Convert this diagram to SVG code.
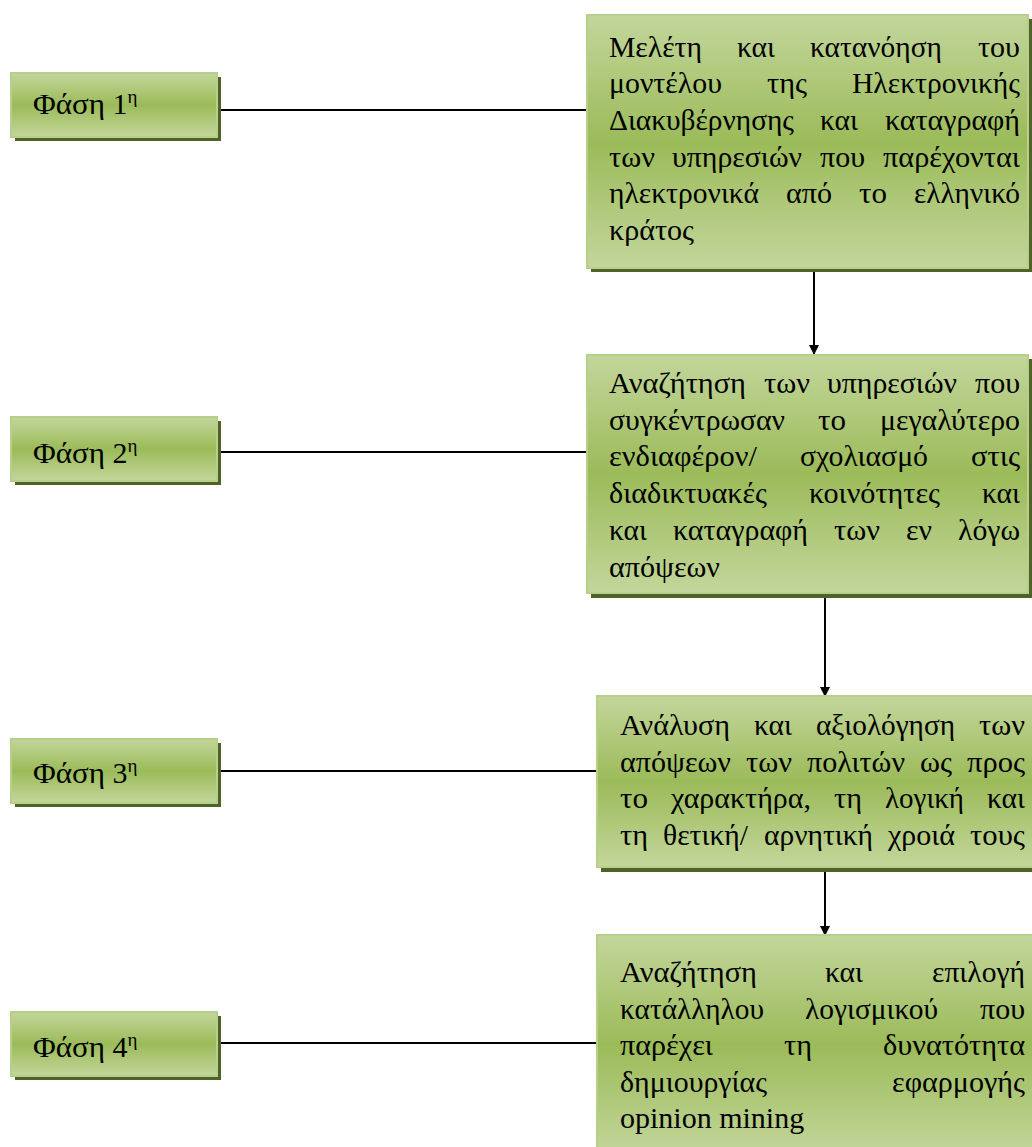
<svg xmlns="http://www.w3.org/2000/svg" width="1032" height="1147" viewBox="0 0 1032 1147">
<defs>
<linearGradient id="g" x1="0" y1="0" x2="0" y2="1">
<stop offset="0" stop-color="#c3d69b"/>
<stop offset="0.5" stop-color="#9bbb59"/>
<stop offset="1" stop-color="#c3d69b"/>
</linearGradient>
<marker id="ah" markerWidth="10" markerHeight="10" refX="9" refY="5" orient="auto" markerUnits="userSpaceOnUse">
<path d="M0,0 L10,5 L0,10 z" fill="#000"/>
</marker>
<style>
.box{fill:url(#g);stroke:#b6cf8a;stroke-width:2}
.sh{fill:#4f6228}
.t{font-family:"Liberation Serif","DejaVu Serif","Times New Roman",serif;font-size:30px;fill:#000}
.sup{font-size:19px}
.c{stroke:#000;stroke-width:2;fill:none}
</style>
</defs>
<rect width="1032" height="1147" fill="#fff"/>
<g id="connectors">
<line class="c" x1="217" y1="110" x2="587" y2="110"/>
<line class="c" x1="217" y1="452" x2="587" y2="452"/>
<line class="c" x1="217" y1="771" x2="597" y2="771"/>
<line class="c" x1="217" y1="1043" x2="597" y2="1043"/>
<line class="c" x1="814" y1="270" x2="814" y2="354" marker-end="url(#ah)"/>
<line class="c" x1="825" y1="596" x2="825" y2="696" marker-end="url(#ah)"/>
<line class="c" x1="825" y1="870" x2="825" y2="935" marker-end="url(#ah)"/>
</g>
<g id="phase1">
<rect class="sh" x="15" y="77" width="206" height="64"/>
<rect class="box" x="11" y="73" width="206" height="64"/>
<text class="t" x="33" y="114"><tspan textLength="72" lengthAdjust="spacingAndGlyphs">Φάση</tspan> 1<tspan class="sup" dy="-11">η</tspan></text>
</g>
<g id="phase2">
<rect class="sh" x="15" y="421" width="206" height="64"/>
<rect class="box" x="11" y="417" width="206" height="64"/>
<text class="t" x="33" y="463"><tspan textLength="72" lengthAdjust="spacingAndGlyphs">Φάση</tspan> 2<tspan class="sup" dy="-11">η</tspan></text>
</g>
<g id="phase3">
<rect class="sh" x="15" y="743" width="206" height="64"/>
<rect class="box" x="11" y="739" width="206" height="64"/>
<text class="t" x="33" y="783"><tspan textLength="72" lengthAdjust="spacingAndGlyphs">Φάση</tspan> 3<tspan class="sup" dy="-11">η</tspan></text>
</g>
<g id="phase4">
<rect class="sh" x="15" y="1016" width="206" height="64"/>
<rect class="box" x="11" y="1012" width="206" height="64"/>
<text class="t" x="33" y="1057"><tspan textLength="72" lengthAdjust="spacingAndGlyphs">Φάση</tspan> 4<tspan class="sup" dy="-11">η</tspan></text>
</g>
<g id="step1">
<rect class="sh" x="591" y="19" width="441" height="253"/>
<rect class="box" x="587" y="15" width="441" height="253"/>
<text class="t" x="609" y="57" textLength="93" lengthAdjust="spacingAndGlyphs">Μελέτη</text>
<text class="t" x="737" y="57" textLength="38" lengthAdjust="spacingAndGlyphs">και</text>
<text class="t" x="810" y="57" textLength="132" lengthAdjust="spacingAndGlyphs">κατανόηση</text>
<text class="t" x="978" y="57" textLength="42" lengthAdjust="spacingAndGlyphs">του</text>
<text class="t" x="609" y="93" textLength="113" lengthAdjust="spacingAndGlyphs">μοντέλου</text>
<text class="t" x="767" y="93" textLength="40" lengthAdjust="spacingAndGlyphs">της</text>
<text class="t" x="852" y="93" textLength="168" lengthAdjust="spacingAndGlyphs">Ηλεκτρονικής</text>
<text class="t" x="609" y="130" textLength="185" lengthAdjust="spacingAndGlyphs">Διακυβέρνησης</text>
<text class="t" x="820" y="130" textLength="38" lengthAdjust="spacingAndGlyphs">και</text>
<text class="t" x="885" y="130" textLength="135" lengthAdjust="spacingAndGlyphs">καταγραφή</text>
<text class="t" x="609" y="167" textLength="46" lengthAdjust="spacingAndGlyphs">των</text>
<text class="t" x="672" y="167" textLength="130" lengthAdjust="spacingAndGlyphs">υπηρεσιών</text>
<text class="t" x="820" y="167" textLength="45" lengthAdjust="spacingAndGlyphs">που</text>
<text class="t" x="883" y="167" textLength="137" lengthAdjust="spacingAndGlyphs">παρέχονται</text>
<text class="t" x="609" y="203" textLength="150" lengthAdjust="spacingAndGlyphs">ηλεκτρονικά</text>
<text class="t" x="786" y="203" textLength="46" lengthAdjust="spacingAndGlyphs">από</text>
<text class="t" x="859" y="203" textLength="28" lengthAdjust="spacingAndGlyphs">το</text>
<text class="t" x="914" y="203" textLength="106" lengthAdjust="spacingAndGlyphs">ελληνικό</text>
<text class="t" x="609" y="240" textLength="85" lengthAdjust="spacingAndGlyphs">κράτος</text>
</g>
<g id="step2">
<rect class="sh" x="591" y="359" width="441" height="239"/>
<rect class="box" x="587" y="355" width="441" height="238"/>
<text class="t" x="609" y="393" textLength="137" lengthAdjust="spacingAndGlyphs">Αναζήτηση</text>
<text class="t" x="764" y="393" textLength="46" lengthAdjust="spacingAndGlyphs">των</text>
<text class="t" x="827" y="393" textLength="130" lengthAdjust="spacingAndGlyphs">υπηρεσιών</text>
<text class="t" x="975" y="393" textLength="45" lengthAdjust="spacingAndGlyphs">που</text>
<text class="t" x="609" y="430" textLength="176" lengthAdjust="spacingAndGlyphs">συγκέντρωσαν</text>
<text class="t" x="818" y="430" textLength="28" lengthAdjust="spacingAndGlyphs">το</text>
<text class="t" x="880" y="430" textLength="140" lengthAdjust="spacingAndGlyphs">μεγαλύτερο</text>
<text class="t" x="609" y="466" textLength="148" lengthAdjust="spacingAndGlyphs">ενδιαφέρον/</text>
<text class="t" x="800" y="466" textLength="128" lengthAdjust="spacingAndGlyphs">σχολιασμό</text>
<text class="t" x="971" y="466" textLength="49" lengthAdjust="spacingAndGlyphs">στις</text>
<text class="t" x="609" y="503" textLength="158" lengthAdjust="spacingAndGlyphs">διαδικτυακές</text>
<text class="t" x="809" y="503" textLength="131" lengthAdjust="spacingAndGlyphs">κοινότητες</text>
<text class="t" x="982" y="503" textLength="38" lengthAdjust="spacingAndGlyphs">και</text>
<text class="t" x="609" y="540" textLength="38" lengthAdjust="spacingAndGlyphs">και</text>
<text class="t" x="673" y="540" textLength="135" lengthAdjust="spacingAndGlyphs">καταγραφή</text>
<text class="t" x="834" y="540" textLength="46" lengthAdjust="spacingAndGlyphs">των</text>
<text class="t" x="906" y="540" textLength="26" lengthAdjust="spacingAndGlyphs">εν</text>
<text class="t" x="958" y="540" textLength="62" lengthAdjust="spacingAndGlyphs">λόγω</text>
<text class="t" x="609" y="577" textLength="111" lengthAdjust="spacingAndGlyphs">απόψεων</text>
</g>
<g id="step3">
<rect class="sh" x="601" y="700" width="435" height="172"/>
<rect class="box" x="597" y="696" width="440" height="171"/>
<text class="t" x="620" y="735" textLength="110" lengthAdjust="spacingAndGlyphs">Ανάλυση</text>
<text class="t" x="754" y="735" textLength="38" lengthAdjust="spacingAndGlyphs">και</text>
<text class="t" x="816" y="735" textLength="139" lengthAdjust="spacingAndGlyphs">αξιολόγηση</text>
<text class="t" x="979" y="735" textLength="46" lengthAdjust="spacingAndGlyphs">των</text>
<text class="t" x="620" y="772" textLength="111" lengthAdjust="spacingAndGlyphs">απόψεων</text>
<text class="t" x="746" y="772" textLength="46" lengthAdjust="spacingAndGlyphs">των</text>
<text class="t" x="807" y="772" textLength="98" lengthAdjust="spacingAndGlyphs">πολιτών</text>
<text class="t" x="920" y="772" textLength="32" lengthAdjust="spacingAndGlyphs">ως</text>
<text class="t" x="967" y="772" textLength="58" lengthAdjust="spacingAndGlyphs">προς</text>
<text class="t" x="620" y="808" textLength="28" lengthAdjust="spacingAndGlyphs">το</text>
<text class="t" x="671" y="808" textLength="140" lengthAdjust="spacingAndGlyphs">χαρακτήρα,</text>
<text class="t" x="834" y="808" textLength="28" lengthAdjust="spacingAndGlyphs">τη</text>
<text class="t" x="885" y="808" textLength="79" lengthAdjust="spacingAndGlyphs">λογική</text>
<text class="t" x="987" y="808" textLength="38" lengthAdjust="spacingAndGlyphs">και</text>
<text class="t" x="620" y="845" textLength="28" lengthAdjust="spacingAndGlyphs">τη</text>
<text class="t" x="663" y="845" textLength="85" lengthAdjust="spacingAndGlyphs">θετική/</text>
<text class="t" x="764" y="845" textLength="109" lengthAdjust="spacingAndGlyphs">αρνητική</text>
<text class="t" x="888" y="845" textLength="67" lengthAdjust="spacingAndGlyphs">χροιά</text>
<text class="t" x="970" y="845" textLength="55" lengthAdjust="spacingAndGlyphs">τους</text>
</g>
<g id="step4">
<rect class="box" x="597" y="935" width="440" height="220"/>
<text class="t" x="620" y="982" textLength="137" lengthAdjust="spacingAndGlyphs">Αναζήτηση</text>
<text class="t" x="825" y="982" textLength="38" lengthAdjust="spacingAndGlyphs">και</text>
<text class="t" x="932" y="982" textLength="93" lengthAdjust="spacingAndGlyphs">επιλογή</text>
<text class="t" x="620" y="1019" textLength="144" lengthAdjust="spacingAndGlyphs">κατάλληλου</text>
<text class="t" x="805" y="1019" textLength="133" lengthAdjust="spacingAndGlyphs">λογισμικού</text>
<text class="t" x="980" y="1019" textLength="45" lengthAdjust="spacingAndGlyphs">που</text>
<text class="t" x="620" y="1055" textLength="93" lengthAdjust="spacingAndGlyphs">παρέχει</text>
<text class="t" x="784" y="1055" textLength="28" lengthAdjust="spacingAndGlyphs">τη</text>
<text class="t" x="883" y="1055" textLength="142" lengthAdjust="spacingAndGlyphs">δυνατότητα</text>
<text class="t" x="620" y="1092" textLength="147" lengthAdjust="spacingAndGlyphs">δημιουργίας</text>
<text class="t" x="892" y="1092" textLength="133" lengthAdjust="spacingAndGlyphs">εφαρμογής</text>
<text class="t" x="620" y="1128">opinion mining</text>
</g>
</svg>
